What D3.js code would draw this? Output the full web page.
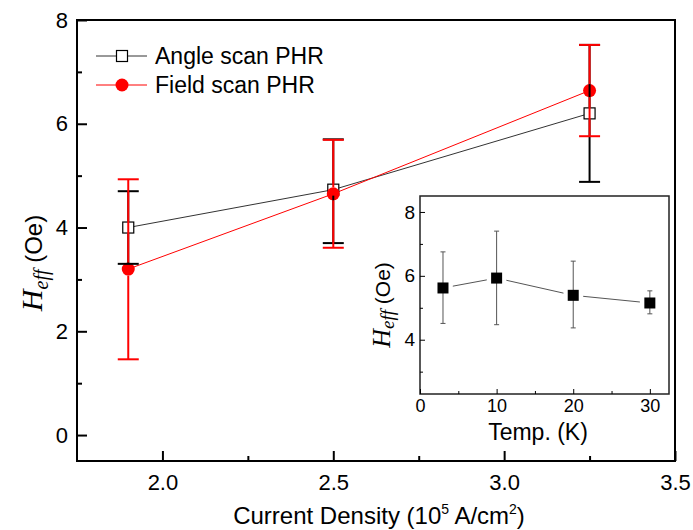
<!DOCTYPE html>
<html>
<head>
<meta charset="utf-8">
<script src="https://cdn.jsdelivr.net/npm/d3@7"></script>
<style>
  body { margin: 0; background: #fff; }
  text { font-family: "Liberation Sans", Arial, sans-serif; fill: #000; }
</style>
</head>
<body>
<div id="chart"></div>
<script>
// main plot data
const density = [1.9, 2.5, 3.25];
const angleH = [4.0, 4.73, 6.2];
const angleLo = [3.3, 3.7, 4.88];
const angleHi = [4.7, 5.7, 7.52];
const fieldH = [3.2, 4.65, 6.64];
const fieldLo = [1.46, 3.61, 5.76];
const fieldHi = [4.93, 5.69, 7.52];

// inset data
const temps = [3, 10, 20, 30];
const tempH = [5.62, 5.93, 5.39, 5.15];
const tempLo = [4.51, 4.47, 4.37, 4.81];
const tempHi = [6.75, 7.40, 6.46, 5.53];

const xTicks = [2.0, 2.5, 3.0, 3.5];
const yTicks = [0, 2, 4, 6, 8];
const insetXTicks = [0, 10, 20, 30];
const insetYTicks = [4, 6, 8];

const width = 693, height = 530;
const red = "#ff0000";

const svg = d3.select("#chart").append("svg")
    .attr("width", width)
    .attr("height", height);

const x = d3.scaleLinear().domain([1.75, 3.5]).range([77, 675]);
const y = d3.scaleLinear().domain([-0.5, 8]).range([461, 20]);

// minor ticks first, then major
svg.append("g")
    .attr("transform", "translate(0,461)")
    .call(d3.axisBottom(x).tickValues([2.25, 2.75, 3.25]).tickSize(-5).tickFormat(""))
    .call(g => g.select(".domain").remove())
    .selectAll("line").attr("stroke-width", 2);
svg.append("g")
    .attr("transform", "translate(77,0)")
    .call(d3.axisLeft(y).tickValues([1, 3, 5, 7]).tickSize(-5).tickFormat(""))
    .call(g => g.select(".domain").remove())
    .selectAll("line").attr("stroke-width", 2);

const xAxis = svg.append("g")
    .attr("transform", "translate(0,461)")
    .call(d3.axisBottom(x).tickValues(xTicks).tickSize(-10).tickPadding(13).tickFormat(d3.format(".1f")));
xAxis.select(".domain").remove();
xAxis.selectAll("line").attr("stroke-width", 2);
xAxis.selectAll("text").attr("font-size", 22).attr("font-family", null);

const yAxis = svg.append("g")
    .attr("transform", "translate(77,0)")
    .call(d3.axisLeft(y).tickValues(yTicks).tickSize(-10).tickPadding(9));
yAxis.select(".domain").remove();
yAxis.selectAll("line").attr("stroke-width", 2);
yAxis.selectAll("text").attr("font-size", 22).attr("font-family", null);

svg.append("rect")
    .attr("x", x.range()[0]).attr("y", y.range()[1])
    .attr("width", x.range()[1] - x.range()[0])
    .attr("height", y.range()[0] - y.range()[1])
    .attr("fill", "none").attr("stroke", "#000").attr("stroke-width", 2);

// connecting lines
const line = d3.line().x(d => x(d[0])).y(d => y(d[1]));
svg.append("path")
    .attr("d", line(density.map((d, i) => [d, angleH[i]])))
    .attr("fill", "none").attr("stroke", "#333").attr("stroke-width", 1);
svg.append("path")
    .attr("d", line(density.map((d, i) => [d, fieldH[i]])))
    .attr("fill", "none").attr("stroke", red).attr("stroke-width", 1);

svg.append("g").selectAll("rect")
    .data(density)
    .enter().append("rect")
    .attr("x", d => x(d) - 5.5)
    .attr("y", (d, i) => y(angleH[i]) - 5.5)
    .attr("width", 11).attr("height", 11)
    .attr("fill", "#fff").attr("stroke", "#000").attr("stroke-width", 1.2);

svg.append("g").selectAll("circle")
    .data(density)
    .enter().append("circle")
    .attr("cx", d => x(d))
    .attr("cy", (d, i) => y(fieldH[i]))
    .attr("r", 6.5)
    .attr("fill", red);

// error bars, split around each marker
function errorBars(vals, lo, hi, color, gap) {
    const g = svg.append("g").attr("stroke", color).attr("stroke-width", 2);
    density.forEach((d, i) => {
        const cx = x(d), cy = y(vals[i]);
        g.append("line").attr("x1", cx).attr("x2", cx).attr("y1", y(hi[i])).attr("y2", cy - gap);
        g.append("line").attr("x1", cx).attr("x2", cx).attr("y1", cy + gap).attr("y2", y(lo[i]));
        g.append("line").attr("x1", cx - 10.5).attr("x2", cx + 10.5).attr("y1", y(hi[i])).attr("y2", y(hi[i]));
        g.append("line").attr("x1", cx - 10.5).attr("x2", cx + 10.5).attr("y1", y(lo[i])).attr("y2", y(lo[i]));
    });
}
errorBars(angleH, angleLo, angleHi, "#000", 6);
errorBars(fieldH, fieldLo, fieldHi, red, 6.5);

// legend
const legend = svg.append("g");
legend.append("line").attr("x1", 96).attr("x2", 147).attr("y1", 56).attr("y2", 56)
    .attr("stroke", "#333").attr("stroke-width", 1);
legend.append("rect").attr("x", 116.5).attr("y", 50.5).attr("width", 11).attr("height", 11)
    .attr("fill", "#fff").attr("stroke", "#000").attr("stroke-width", 1.2);
legend.append("text").attr("x", 155).attr("y", 64).attr("font-size", 23).text("Angle scan PHR");
legend.append("line").attr("x1", 96).attr("x2", 147).attr("y1", 85).attr("y2", 85)
    .attr("stroke", red).attr("stroke-width", 1);
legend.append("circle").attr("cx", 122).attr("cy", 85).attr("r", 6.5).attr("fill", red);
legend.append("text").attr("x", 155).attr("y", 93).attr("font-size", 23).text("Field scan PHR");

// axis titles
const xt = svg.append("text")
    .attr("x", 379).attr("y", 524)
    .attr("text-anchor", "middle")
    .attr("font-size", 24);
xt.append("tspan").text("Current Density (10");
xt.append("tspan").attr("font-size", 14).attr("dy", -10).text("5");
xt.append("tspan").attr("dy", 10).text(" A/cm");
xt.append("tspan").attr("font-size", 14).attr("dy", -10).text("2");
xt.append("tspan").attr("dy", 10).text(")");

const yt = svg.append("text")
    .attr("transform", "translate(42,263) rotate(-90)")
    .attr("text-anchor", "middle")
    .attr("font-size", 24);
yt.append("tspan").attr("font-family", "Liberation Serif, Times New Roman, serif")
    .attr("font-style", "italic").attr("font-size", 30).text("H");
yt.append("tspan").attr("font-family", "Liberation Serif, Times New Roman, serif")
    .attr("font-style", "italic").attr("font-size", 20).attr("dy", 6).text("eff");
yt.append("tspan").attr("dy", -6).text(" (Oe)");

// inset
const ix = d3.scaleLinear().domain([0, 32.5]).range([420, 669]);
const iy = d3.scaleLinear().domain([2.3, 8.5]).range([394, 196]);

svg.append("rect")
    .attr("x", 420).attr("y", 196)
    .attr("width", ix.range()[1] - ix.range()[0])
    .attr("height", iy.range()[0] - iy.range()[1])
    .attr("fill", "#fff").attr("stroke", "#222").attr("stroke-width", 1.5);

svg.append("g")
    .attr("transform", "translate(0,394)")
    .call(d3.axisBottom(ix).tickValues([5, 15, 25]).tickSize(-3).tickFormat(""))
    .call(g => g.select(".domain").remove());
svg.append("g")
    .attr("transform", "translate(420,0)")
    .call(d3.axisLeft(iy).tickValues([3, 5, 7]).tickSize(-3).tickFormat(""))
    .call(g => g.select(".domain").remove());

const ixAxis = svg.append("g")
    .attr("transform", "translate(0,394)")
    .call(d3.axisBottom(ix).tickValues(insetXTicks).tickSize(-5).tickPadding(5));
ixAxis.select(".domain").remove();
ixAxis.selectAll("text").attr("font-size", 18).attr("font-family", null);

const iyAxis = svg.append("g")
    .attr("transform", "translate(420,0)")
    .call(d3.axisLeft(iy).tickValues(insetYTicks).tickSize(-5).tickPadding(5).tickFormat(d3.format("d")));
iyAxis.select(".domain").remove();
iyAxis.selectAll("text").attr("font-size", 19).attr("font-family", null);

// inset line with gaps near markers
const pts = temps.map((t, i) => [ix(t), iy(tempH[i])]);
const segs = svg.append("g").attr("stroke", "#555").attr("stroke-width", 1);
for (let i = 0; i < pts.length - 1; i++) {
    const [x1, y1] = pts[i], [x2, y2] = pts[i + 1];
    const len = Math.hypot(x2 - x1, y2 - y1), g = 10;
    const ux = (x2 - x1) / len, uy = (y2 - y1) / len;
    segs.append("line")
        .attr("x1", x1 + ux * g).attr("y1", y1 + uy * g)
        .attr("x2", x2 - ux * g).attr("y2", y2 - uy * g);
}

const ieb = svg.append("g").attr("stroke", "#555").attr("stroke-width", 1);
temps.forEach((t, i) => {
    const cx = ix(t);
    ieb.append("line").attr("x1", cx).attr("x2", cx).attr("y1", iy(tempHi[i])).attr("y2", iy(tempLo[i]));
    ieb.append("line").attr("x1", cx - 2.5).attr("x2", cx + 2.5).attr("y1", iy(tempHi[i])).attr("y2", iy(tempHi[i]));
    ieb.append("line").attr("x1", cx - 2.5).attr("x2", cx + 2.5).attr("y1", iy(tempLo[i])).attr("y2", iy(tempLo[i]));
});

svg.append("g").selectAll("rect")
    .data(temps)
    .enter().append("rect")
    .attr("x", d => ix(d) - 5.5)
    .attr("y", (d, i) => iy(tempH[i]) - 5.5)
    .attr("width", 11).attr("height", 11)
    .attr("fill", "#000");

svg.append("text")
    .attr("x", 538).attr("y", 440)
    .attr("text-anchor", "middle")
    .attr("font-size", 23)
    .text("Temp. (K)");

const iyt = svg.append("text")
    .attr("transform", "translate(390,305) rotate(-90)")
    .attr("text-anchor", "middle")
    .attr("font-size", 21);
iyt.append("tspan").attr("font-family", "Liberation Serif, Times New Roman, serif")
    .attr("font-style", "italic").attr("font-size", 26).text("H");
iyt.append("tspan").attr("font-family", "Liberation Serif, Times New Roman, serif")
    .attr("font-style", "italic").attr("font-size", 19).attr("dy", 4).text("eff");
iyt.append("tspan").attr("dy", -4).text(" (Oe)");
</script>
</body>
</html>
